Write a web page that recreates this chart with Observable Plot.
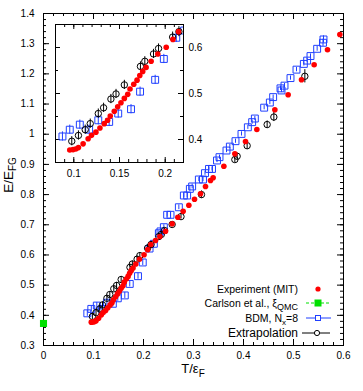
<!DOCTYPE html>
<html><head><meta charset="utf-8">
<script src="https://cdn.jsdelivr.net/npm/d3@7"></script>
<script src="https://cdn.jsdelivr.net/npm/@observablehq/plot@0.6"></script>
<style>
body{margin:0;background:#fff;}
#wrap{position:relative;width:363px;height:391px;font-family:"Liberation Sans",Arial,sans-serif;}
#wrap svg{position:absolute;overflow:visible;}
</style></head><body><div id="wrap"></div>
<script>
// ---- data ----
const expT = [0.0956,0.0992,0.1022,0.1051,0.1102,0.1157,0.1194,0.1242,0.1286,0.1333,0.1370,0.1399,0.1443,0.1480,0.1516,0.1553,0.1590,0.1615,0.1656,0.1692,0.1722,0.1754,0.1791,0.1846,0.1919,0.2011,0.2084,0.2146,0.224,0.2327,0.244,0.2573,0.2687,0.2793,0.2907,0.302,0.314,0.324,0.334,0.3393,0.3607,0.3827,0.404,0.4267,0.4627,0.4893,0.516,0.5413,0.568,0.5927];
const expE = [0.3773,0.378,0.3795,0.3824,0.3905,0.4015,0.409,0.416,0.4249,0.4345,0.4418,0.4512,0.4615,0.471,0.4798,0.4894,0.4982,0.5099,0.5202,0.529,0.539,0.548,0.5567,0.570,0.586,0.6007,0.6176,0.6345,0.648,0.6612,0.6787,0.7032,0.7251,0.745,0.7649,0.7848,0.8027,0.8268,0.8467,0.8557,0.894,0.935,0.976,1.0157,1.081,1.1307,1.1804,1.230,1.2797,1.3305];

const qmcT = [0];
const qmcE = [0.373];

const bdmT = [0.0876,0.0956,0.1066,0.1168,0.1268,0.1387,0.1486,0.1626,0.1725,0.1890,0.1985,0.2121,0.2207,0.2307,0.2340,0.2407,0.2473,0.2540,0.2707,0.2807,0.2873,0.2927,0.2973,0.3107,0.319,0.323,0.331,0.337,0.347,0.352,0.366,0.3727,0.384,0.396,0.4087,0.4173,0.4227,0.4413,0.4527,0.4593,0.474,0.476,0.482,0.494,0.506,0.5207,0.5273,0.534,0.5473,0.559,0.560];
const bdmE = [0.4066,0.4213,0.4323,0.4213,0.4418,0.4382,0.4564,0.4659,0.5040,0.5297,0.5751,0.6212,0.637,0.672,0.678,0.692,0.733,0.733,0.758,0.797,0.797,0.819,0.827,0.850,0.850,0.871,0.885,0.885,0.913,0.924,0.946,0.959,0.977,1.001,1.023,1.040,1.052,1.088,1.105,1.123,1.152,1.145,1.161,1.186,1.214,1.233,1.244,1.259,1.283,1.303,1.314];
const bdmErr = [0.01,0.01,0.01,0.01,0.01,0.01,0.01,0.01,0.01,0.01,0.01,0.01,0.008,0.008,0.008,0.008,0.008,0.008,0.008,0.008,0.008,0.008,0.008,0.007,0.007,0.007,0.007,0.007,0.007,0.007,0.007,0.007,0.007,0.007,0.007,0.007,0.007,0.007,0.007,0.007,0.007,0.007,0.007,0.007,0.007,0.007,0.007,0.007,0.008,0.012,0.012];

const extT = [0.0978,0.1051,0.1125,0.1180,0.1268,0.1326,0.1406,0.1462,0.1553,0.1729,0.1777,0.1872,0.1927,0.2081,0.2150,0.2307,0.2357,0.242,0.2573,0.275,0.316,0.3827,0.3873,0.4073,0.4473,0.4607,0.5227];
const extE = [0.3963,0.4088,0.4213,0.4345,0.4564,0.4689,0.4879,0.499,0.5187,0.5589,0.570,0.586,0.5978,0.6226,0.6345,0.661,0.668,0.681,0.701,0.727,0.800,0.916,0.927,0.962,1.032,1.057,1.192];
const extErr = [0.01,0.01,0.01,0.01,0.01,0.01,0.01,0.01,0.01,0.01,0.01,0.01,0.01,0.011,0.011,0.008,0.008,0.008,0.008,0.008,0.012,0.01,0.01,0.012,0.012,0.015,0.022];

const xTicks = [0,0.1,0.2,0.3,0.4,0.5,0.6];
const yTicks = [0.3,0.4,0.5,0.6,0.7,0.8,0.9,1,1.1,1.2,1.3,1.4];
const insetXTicks = [0.1,0.15,0.2];
const insetYTicks = [0.4,0.5,0.6];

const legendLabels = ["Experiment (MIT)","Carlson et al., ξ","BDM, N","Extrapolation"];

// ---- tables ----
const exp = expT.map((t,i)=>({T:t,E:expE[i]}));
const qmc = qmcT.map((t,i)=>({T:t,E:qmcE[i]}));
const bdm = bdmT.map((t,i)=>({T:t,E:bdmE[i],err:bdmErr[i]}));
const ext = extT.map((t,i)=>({T:t,E:extE[i],err:extErr[i]}));

const RED="#ff0000", BLUE="#1f3fff", GREEN="#00e000", BLACK="#000";
const FONT='"Liberation Sans", Arial, sans-serif';

function tickMarks(xMaj,xMin,yMaj,yMin,pw,ph,lMaj,lMin){
  return [
    Plot.ruleX(xMin,{insetTop:ph-lMin,stroke:BLACK}),
    Plot.ruleX(xMin,{insetBottom:ph-lMin,stroke:BLACK}),
    Plot.ruleX(xMaj,{insetTop:ph-lMaj,stroke:BLACK}),
    Plot.ruleX(xMaj,{insetBottom:ph-lMaj,stroke:BLACK}),
    Plot.ruleY(yMin,{insetRight:pw-lMin,stroke:BLACK}),
    Plot.ruleY(yMin,{insetLeft:pw-lMin,stroke:BLACK}),
    Plot.ruleY(yMaj,{insetRight:pw-lMaj,stroke:BLACK}),
    Plot.ruleY(yMaj,{insetLeft:pw-lMaj,stroke:BLACK})
  ];
}

function dataMarks(clip){
  return [
    Plot.ruleX(bdm,{x:"T",y1:d=>d.E-d.err,y2:d=>d.E+d.err,stroke:BLUE,strokeWidth:1,clip}),
    Plot.dot(bdm,{x:"T",y:"E",symbol:"square",r:3.9,stroke:BLUE,fill:"none",strokeWidth:1,clip}),
    Plot.ruleX(ext,{x:"T",y1:d=>d.E-d.err,y2:d=>d.E+d.err,stroke:BLACK,strokeWidth:1,clip}),
    Plot.dot(ext,{x:"T",y:"E",r:3.2,stroke:BLACK,fill:"none",strokeWidth:1,clip}),
    Plot.dot(exp,{x:"T",y:"E",r:2.8,fill:RED,clip}),
    Plot.dot(qmc,{x:"T",y:"E",symbol:"square",r:4,fill:GREEN,clip})
  ];
}

// ---- main chart ----
const W=363,H=391,mL=43,mR=20,mT=13,mB=46;
const pw=W-mL-mR, ph=H-mT-mB;
const xMinor=d3.range(0,31).map(i=>i/50);
const yMinor=d3.range(15,71).map(i=>i/50);

const main = Plot.plot({
  width:W,height:H,marginLeft:mL,marginRight:mR,marginTop:mT,marginBottom:mB,
  style:{fontFamily:FONT,fontSize:"10px",color:"#000",background:"transparent",overflow:"visible"},
  x:{domain:[0,0.6]},
  y:{domain:[0.3,1.4]},
  marks:[
    ...tickMarks(xTicks,xMinor,yTicks,yMinor,pw,ph,6,3),
    Plot.axisX(xTicks,{tickSize:0,tickPadding:6,tickFormat:d=>String(d),label:null,fontSize:10}),
    Plot.axisY(yTicks,{tickSize:0,tickPadding:9,tickFormat:d=>String(d),label:null,fontSize:10}),
    Plot.frame({stroke:BLACK,strokeWidth:1}),
    ...dataMarks(false)
  ]
});
main.style.left="0px"; main.style.top="0px";
document.getElementById("wrap").appendChild(main);

// axis titles with subscripts
const ms=d3.select(main);
const yl=ms.append("text").attr("transform","translate(13,175) rotate(-90)")
  .attr("text-anchor","middle").attr("font-size",13.5).attr("font-family",FONT).attr("fill","#000");
yl.append("tspan").text("E/E");
yl.append("tspan").attr("font-size",10).attr("dy",3).text("FG");
const xl=ms.append("text").attr("x",193).attr("y",373)
  .attr("text-anchor","middle").attr("font-size",13).attr("font-family",FONT).attr("fill","#000");
xl.append("tspan").text("T/ε");
xl.append("tspan").attr("font-size",10).attr("dy",4).text("F");

// legend
const lg=ms.append("g").attr("font-family",FONT).attr("fill","#000");
const tx=298;
lg.append("text").attr("x",tx).attr("y",292.5).attr("text-anchor","end").attr("font-size",10.5).text(legendLabels[0]);
lg.append("circle").attr("cx",318).attr("cy",289).attr("r",2.6).attr("fill",RED);
let t2=lg.append("text").attr("x",tx).attr("y",306.5).attr("text-anchor","end").attr("font-size",10.5);
t2.append("tspan").text(legendLabels[1]);
t2.append("tspan").attr("font-size",9).attr("dy",3).text("QMC");
lg.append("line").attr("x1",306).attr("x2",331).attr("y1",303).attr("y2",303).attr("stroke",GREEN).attr("stroke-dasharray","3,2");
lg.append("rect").attr("x",314.5).attr("y",299.5).attr("width",7).attr("height",7).attr("fill",GREEN);
let t3=lg.append("text").attr("x",tx).attr("y",321.5).attr("text-anchor","end").attr("font-size",10.5);
t3.append("tspan").text(legendLabels[2]);
t3.append("tspan").attr("font-size",8).attr("dy",3).text("x");
t3.append("tspan").attr("dy",-3).text("=8");
lg.append("line").attr("x1",306).attr("x2",331).attr("y1",318).attr("y2",318).attr("stroke",BLUE);
lg.append("rect").attr("x",315.5).attr("y",315.5).attr("width",5).attr("height",5).attr("fill","#fff").attr("stroke",BLUE);
lg.append("text").attr("x",tx).attr("y",337).attr("text-anchor","end").attr("font-size",12).text(legendLabels[3]);
lg.append("line").attr("x1",302).attr("x2",330).attr("y1",333).attr("y2",333).attr("stroke",BLACK);
lg.append("circle").attr("cx",317).attr("cy",333).attr("r",2.6).attr("fill","#fff").attr("stroke",BLACK);

// ---- inset ----
const iL=1,iT=1,iR=30,iB=20, iw=128, ih=138;
const ixMinor=d3.range(8,23).map(i=>i/100);
const iyMinor=d3.range(7,14).map(i=>i/20);
const inset = Plot.plot({
  width:iw+iL+iR,height:ih+iT+iB,marginLeft:iL,marginRight:iR,marginTop:iT,marginBottom:iB,
  style:{fontFamily:FONT,fontSize:"10px",color:"#000",background:"transparent",overflow:"visible"},
  x:{domain:[0.08,0.22]},
  y:{domain:[0.35,0.65]},
  marks:[
    Plot.frame({fill:"#fff"}),
    ...tickMarks(insetXTicks,ixMinor,insetYTicks,iyMinor,iw,ih,5,3),
    Plot.axisX(insetXTicks,{anchor:"bottom",tickSize:0,tickPadding:7,tickFormat:d=>String(d),label:null,fontSize:10}),
    Plot.axisY(insetYTicks,{anchor:"right",tickSize:0,tickPadding:5,tickFormat:d=>String(d),label:null,fontSize:10}),
    ...dataMarks(true),
    Plot.frame({stroke:BLACK,strokeWidth:1})
  ]
});
inset.style.left=(55-iL)+"px"; inset.style.top=(24-iT)+"px";
document.getElementById("wrap").appendChild(inset);
</script>
</body></html>
